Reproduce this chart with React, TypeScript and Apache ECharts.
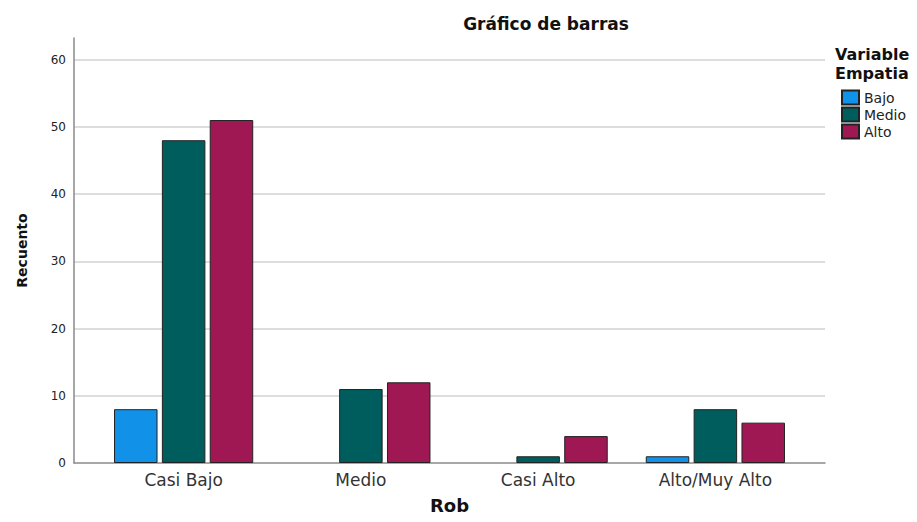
import React, { useEffect, useRef } from "react";
import * as echarts from "echarts";

const categories = ["Casi Bajo", "Medio", "Casi Alto", "Alto/Muy Alto"];
const seriesNames = ["Bajo", "Medio", "Alto"];
const bajoValues: (number | null)[] = [8, null, null, 1];
const medioValues: (number | null)[] = [48, 11, 1, 8];
const altoValues: (number | null)[] = [51, 12, 4, 6];
const seriesColors = ["#1192e8", "#005d5d", "#9f1853"];
const yMax = 63.2;
const yInterval = 10;

const FONT = "DejaVu Sans";

export default function App() {
  const ref = useRef<HTMLDivElement>(null);
  useEffect(() => {
    if (!ref.current) return;
    const chart = echarts.init(ref.current, undefined, { renderer: "svg" });
    const values = [bajoValues, medioValues, altoValues];
    chart.setOption({
      animation: false,
      backgroundColor: "#ffffff",
      textStyle: { fontFamily: FONT },
      grid: [
        { left: 74, right: 92, top: 38, bottom: 59, outerBoundsMode: "none", containLabel: false },
        { left: 95, right: 113, top: 38, bottom: 59, outerBoundsMode: "none", containLabel: false },
      ],
      xAxis: [
        {
          gridIndex: 0,
          type: "value",
          min: 0,
          max: 1,
          axisLine: { show: true, lineStyle: { color: "#8a8a8a", width: 1.5 } },
          axisTick: { show: false },
          axisLabel: { show: false },
          splitLine: { show: false },
          name: "Rob",
          nameLocation: "middle",
          nameGap: 33,
          nameTextStyle: { fontFamily: FONT, fontWeight: "bold", fontSize: 18, color: "#111" },
        },
        {
          gridIndex: 1,
          type: "category",
          data: categories,
          axisLine: { show: false },
          axisTick: { show: false },
          axisLabel: { fontFamily: FONT, fontSize: 17, color: "#333", margin: 8 },
          splitLine: { show: false },
        },
      ],
      yAxis: [
        {
          gridIndex: 0,
          type: "value",
          min: 0,
          max: yMax,
          interval: yInterval,
          axisLine: { show: true, lineStyle: { color: "#8a8a8a", width: 1.5 } },
          axisTick: { show: false },
          axisLabel: {
            showMaxLabel: false,
            fontFamily: FONT,
            fontSize: 12,
            color: "#222",
            margin: 8,
            formatter: (v: number) => (v % yInterval === 0 ? String(v) : ""),
          },
          splitLine: {
            show: true,
            showMinLine: false,
            showMaxLine: false,
            lineStyle: { color: "#d2d2d2", width: 1.5 },
          },
          name: "Recuento",
          nameLocation: "middle",
          nameRotate: 90,
          nameGap: 45,
          nameTextStyle: { fontFamily: FONT, fontWeight: "bold", fontSize: 14, color: "#111" },
        },
        {
          gridIndex: 1,
          type: "value",
          min: 0,
          max: yMax,
          show: false,
        },
      ],
      legend: {
        data: seriesNames,
        orient: "vertical",
        left: 841,
        top: 89,
        itemWidth: 17,
        itemHeight: 14,
        itemGap: 0,
        padding: 0,
        icon: "rect",
        textStyle: { fontFamily: FONT, fontSize: 14, lineHeight: 17, color: "#222" },
      },
      graphic: [
        {
          type: "text",
          x: 546,
          y: 24,
          style: {
            text: "Gráfico de barras",
            fontFamily: FONT,
            fontWeight: "bold",
            fontSize: 17,
            fill: "#111",
            textAlign: "center",
            textVerticalAlign: "middle",
          },
        },
        {
          type: "text",
          x: 835,
          y: 45,
          style: {
            text: "Variable\nEmpatia",
            fontFamily: FONT,
            fontWeight: "bold",
            fontSize: 16,
            lineHeight: 19,
            fill: "#111",
            textAlign: "left",
            textVerticalAlign: "top",
          },
        },
      ],
      series: seriesNames.map((name, i) => ({
        name,
        type: "bar",
        xAxisIndex: 1,
        yAxisIndex: 1,
        data: values[i],
        barWidth: 43.5,
        barGap: "10%",
        itemStyle: { color: seriesColors[i], borderColor: "#222", borderWidth: 1 },
      })),
    });
    return () => chart.dispose();
  }, []);
  return (
    <div
      ref={ref}
      style={{ position: "fixed", left: 0, top: 0, width: 917, height: 522 }}
    />
  );
}
